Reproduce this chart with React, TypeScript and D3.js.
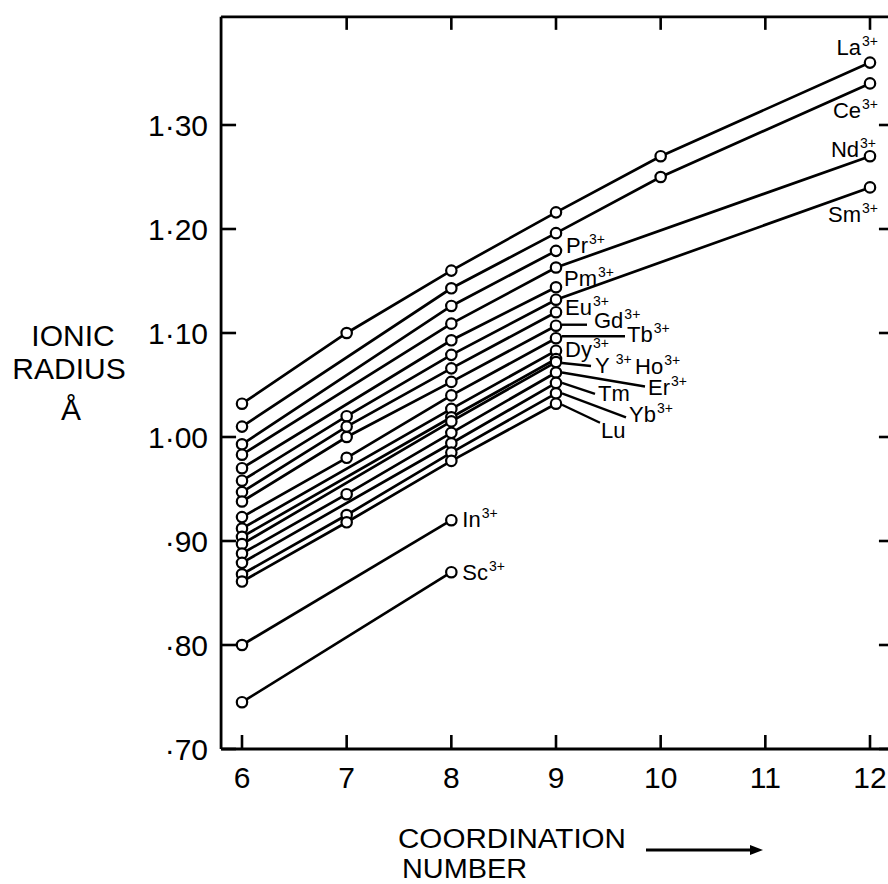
import React from "react";
import * as d3 from "d3";

// ---- Data (Shannon effective ionic radii) ----
const CN_TICKS = [6, 7, 8, 9, 10, 11, 12];
const RADIUS_TICKS = [0.7, 0.8, 0.9, 1.0, 1.1, 1.2, 1.3];
const RADIUS_TICK_LABELS = ["·70", "·80", "·90", "1·00", "1·10", "1·20", "1·30"];

const laCN = [6, 7, 8, 9, 10, 12];
const laR = [1.032, 1.1, 1.16, 1.216, 1.27, 1.36];
const ceCN = [6, 8, 9, 10, 12];
const ceR = [1.01, 1.143, 1.196, 1.25, 1.34];
const prCN = [6, 8, 9];
const prR = [0.993, 1.126, 1.179];
const ndCN = [6, 8, 9, 12];
const ndR = [0.983, 1.109, 1.163, 1.27];
const pmCN = [6, 8, 9];
const pmR = [0.97, 1.093, 1.144];
const smCN = [6, 7, 8, 9, 12];
const smR = [0.958, 1.02, 1.079, 1.132, 1.24];
const euCN = [6, 7, 8, 9];
const euR = [0.947, 1.01, 1.066, 1.12];
const gdCN = [6, 7, 8, 9];
const gdR = [0.938, 1.0, 1.053, 1.107];
const tbCN = [6, 7, 8, 9];
const tbR = [0.923, 0.98, 1.04, 1.095];
const dyCN = [6, 8, 9];
const dyR = [0.912, 1.027, 1.083];
const yCN = [6, 8, 9];
const yR = [0.904, 1.019, 1.075];
const hoCN = [6, 8, 9];
const hoR = [0.897, 1.015, 1.072];
const erCN = [6, 7, 8, 9];
const erR = [0.888, 0.945, 1.004, 1.062];
const tmCN = [6, 8, 9];
const tmR = [0.879, 0.994, 1.052];
const ybCN = [6, 7, 8, 9];
const ybR = [0.868, 0.925, 0.985, 1.042];
const luCN = [6, 7, 8, 9];
const luR = [0.861, 0.918, 0.977, 1.032];
const inCN = [6, 8];
const inR = [0.8, 0.92];
const scCN = [6, 8];
const scR = [0.745, 0.87];

const ION_NAMES = ["La", "Ce", "Pr", "Nd", "Pm", "Sm", "Eu", "Gd", "Tb", "Dy", "Y", "Ho", "Er", "Tm", "Yb", "Lu", "In", "Sc"];
const ION_CHARGES = ["3+", "3+", "3+", "3+", "3+", "3+", "3+", "3+", "3+", "3+", "3+", "3+", "3+", "", "3+", "", "3+", "3+"];
const ION_CNS = [laCN, ceCN, prCN, ndCN, pmCN, smCN, euCN, gdCN, tbCN, dyCN, yCN, hoCN, erCN, tmCN, ybCN, luCN, inCN, scCN];
const ION_RADII = [laR, ceR, prR, ndR, pmR, smR, euR, gdR, tbR, dyR, yR, hoR, erR, tmR, ybR, luR, inR, scR];

// ---- Layout (label placement relative to the labelled point) ----
type Lab = { at: number; anchor: "start" | "end"; dx: number; dy: number; gap?: boolean; leader?: [number, number, number, number] };
const LABEL_LAYOUT: Record<string, Lab> = {
  La: { at: 12, anchor: "end", dx: 8, dy: -8 },
  Ce: { at: 12, anchor: "end", dx: 8, dy: 35 },
  Nd: { at: 12, anchor: "end", dx: 6, dy: 1 },
  Sm: { at: 12, anchor: "end", dx: 8, dy: 35 },
  Pr: { at: 9, anchor: "start", dx: 10, dy: 2 },
  Pm: { at: 9, anchor: "start", dx: 8, dy: -1 },
  Eu: { at: 9, anchor: "start", dx: 9, dy: 3 },
  Gd: { at: 9, anchor: "start", dx: 38, dy: 2, leader: [6, -1, 31, -1] },
  Tb: { at: 9, anchor: "start", dx: 71, dy: 4, leader: [6, -2, 69, -2] },
  Dy: { at: 9, anchor: "start", dx: 9, dy: 6 },
  Y: { at: 9, anchor: "start", dx: 39, dy: 14, gap: true, leader: [6, 4, 35, 7] },
  Ho: { at: 9, anchor: "start", dx: 79, dy: 12 },
  Er: { at: 9, anchor: "start", dx: 92, dy: 22, leader: [6, 0, 89, 14] },
  Tm: { at: 9, anchor: "start", dx: 42, dy: 18, leader: [6, 0, 39, 11] },
  Yb: { at: 9, anchor: "start", dx: 73, dy: 29, leader: [6, 0, 70, 24] },
  Lu: { at: 9, anchor: "start", dx: 45, dy: 34, leader: [6, 1, 44, 19] },
  In: { at: 8, anchor: "start", dx: 11, dy: 7 },
  Sc: { at: 8, anchor: "start", dx: 11, dy: 8 },
};

const W = 888;
const H = 884;
const FONT = "'Liberation Sans', Arial, sans-serif";

export default function App() {
  const x = d3.scaleLinear().domain([6, 12]).range([242, 870]);
  const y = d3.scaleLinear().domain([0.7, 1.3]).range([749, 125]);
  const xLeft = x(5.8);
  const xRight = x(12.2);
  const yTop = y(1.404);
  const yBottom = y(0.7);

  const series = ION_NAMES.map((name, i) => ({
    name,
    charge: ION_CHARGES[i],
    pts: ION_CNS[i].map((c, j) => [c, ION_RADII[i][j]] as [number, number]),
  }));

  const line = d3
    .line<[number, number]>()
    .x((d) => x(d[0]))
    .y((d) => y(d[1]));

  return (
    <svg width={W} height={H} style={{ position: "absolute", left: 0, top: 0, background: "#fff" }} fontFamily={FONT}>
      <rect x={0} y={0} width={W} height={H} fill="#fff" />
      {/* frame */}
      <g stroke="#000" strokeWidth={2.8} fill="none">
        <line x1={xLeft} y1={yTop} x2={W + 5} y2={yTop} />
        <line x1={xLeft} y1={yBottom} x2={W + 5} y2={yBottom} />
        <line x1={xLeft} y1={yTop} x2={xLeft} y2={yBottom} />
        <line x1={xRight} y1={yTop} x2={xRight} y2={yBottom} />
      </g>
      {/* y ticks */}
      <g stroke="#000" strokeWidth={2.6}>
        {RADIUS_TICKS.map((t) => (
          <g key={t}>
            <line x1={xLeft} x2={xLeft + 15} y1={y(t)} y2={y(t)} />
            <line x1={xRight} x2={xRight - 12} y1={y(t)} y2={y(t)} />
          </g>
        ))}
      </g>
      {RADIUS_TICKS.map((t, i) => (
        <text key={t} x={208} y={y(t) + 11} textAnchor="end" fontSize={30} fill="#000">
          {RADIUS_TICK_LABELS[i]}
        </text>
      ))}
      {/* x ticks */}
      <g stroke="#000" strokeWidth={2.6}>
        {CN_TICKS.map((t) => (
          <g key={t}>
            <line x1={x(t)} x2={x(t)} y1={yBottom} y2={yBottom - 14} />
            {t > 6 && <line x1={x(t)} x2={x(t)} y1={yTop} y2={yTop + 13} />}
          </g>
        ))}
      </g>
      {CN_TICKS.map((t) => (
        <text key={t} x={x(t)} y={788} textAnchor="middle" fontSize={30} fill="#000">
          {t}
        </text>
      ))}
      {/* axis titles */}
      <g fontSize={30} fill="#000" textAnchor="middle">
        <text x={73} y={346}>IONIC</text>
        <text x={69} y={379}>RADIUS</text>
        <text x={71} y={420}>Å</text>
      </g>
      <g fontSize={27} fill="#000">
        <text x={398} y={848} textLength={228} lengthAdjust="spacingAndGlyphs">COORDINATION</text>
        <text x={402} y={878} textLength={125} lengthAdjust="spacingAndGlyphs">NUMBER</text>
      </g>
      <line x1={646} x2={752} y1={850} y2={850} stroke="#000" strokeWidth={2.8} />
      <path d="M750,845 L763,850 L750,855 Z" fill="#000" />
      {/* series lines */}
      <g fill="none" stroke="#000" strokeWidth={2.7}>
        {series.map((s) => (
          <path key={s.name} d={line(s.pts) || ""} />
        ))}
      </g>
      {/* points */}
      <g fill="#fff" stroke="#000" strokeWidth={2.2}>
        {series.map((s) =>
          s.pts.map((p) => <circle key={s.name + p[0]} cx={x(p[0])} cy={y(p[1])} r={5.2} />)
        )}
      </g>
      {/* labels */}
      {series.map((s) => {
        const lay = LABEL_LAYOUT[s.name];
        const p = s.pts.find((d) => d[0] === lay.at)!;
        const px = x(p[0]);
        const py = y(p[1]);
        return (
          <g key={"lab" + s.name}>
            {lay.leader && (
              <line
                x1={px + lay.leader[0]}
                y1={py + lay.leader[1]}
                x2={px + lay.leader[2]}
                y2={py + lay.leader[3]}
                stroke="#000"
                strokeWidth={2.4}
              />
            )}
            <text x={px + lay.dx} y={py + lay.dy} textAnchor={lay.anchor} fontSize={22} fill="#000">
              <tspan>{s.name}</tspan>
              {s.charge && (
                <tspan dx={lay.gap ? 6 : 1} dy={-9} fontSize={14}>
                  {s.charge}
                </tspan>
              )}
            </text>
          </g>
        );
      })}
    </svg>
  );
}
